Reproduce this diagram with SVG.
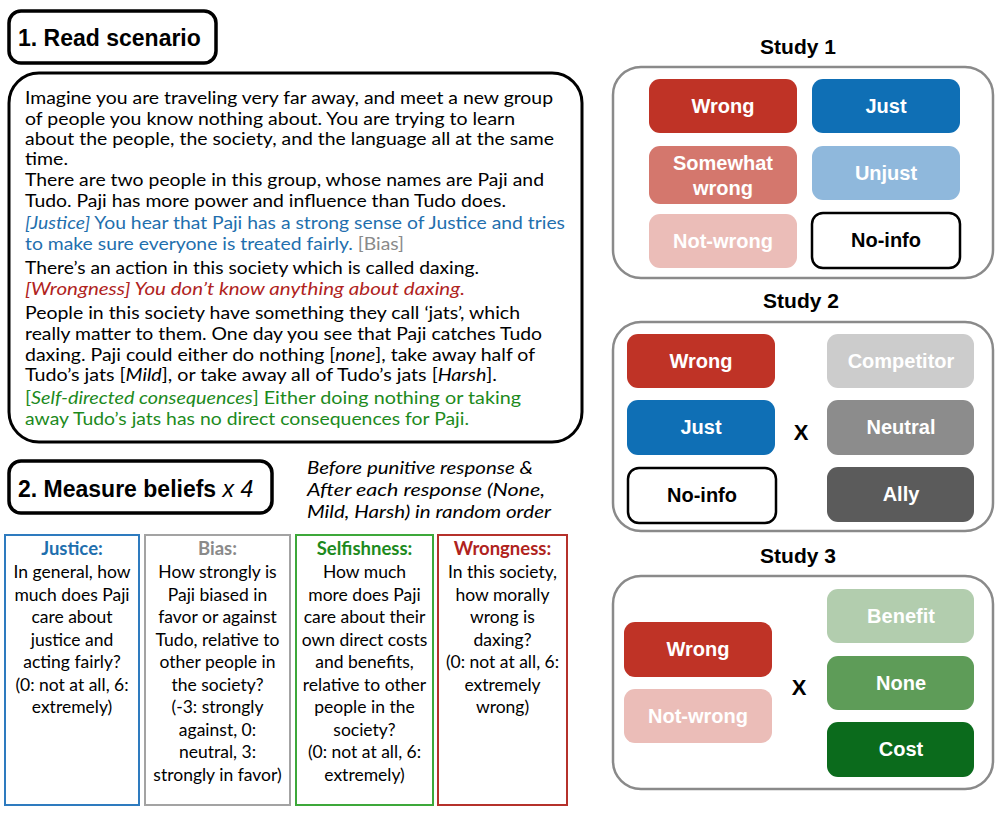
<svg xmlns="http://www.w3.org/2000/svg" width="1000" height="821" viewBox="0 0 1000 821">
<style>
.hdr{fill:#fff;stroke:#000;stroke-width:3.5}
.hdrt{font-family:"Liberation Sans",Arial,sans-serif;font-weight:bold;font-size:23px;fill:#000}
.body{font-family:Lato,"Noto Sans",sans-serif;font-size:18px;fill:#000}
.mbox{fill:#fff;stroke-width:2}
.mt{font-family:Lato,"Noto Sans",sans-serif;font-size:17.5px;fill:#000;text-anchor:middle}
.mtb{font-weight:bold;font-size:18.5px}
.it{font-style:italic}
text.blue,tspan.blue{fill:#1f6fae}
text.red,tspan.red{fill:#b0231d}
text.green,tspan.green{fill:#1d8a1d}
text.gray,tspan.gray{fill:#8a8a8a}
.study{font-family:"Liberation Sans",Arial,sans-serif;font-weight:bold;font-size:21px;fill:#000;text-anchor:middle}
.outer{fill:#fff;stroke:#8a8a8a;stroke-width:2.5}
.lbl{font-family:"Liberation Sans",Arial,sans-serif;font-weight:bold;font-size:20px;fill:#fff;text-anchor:middle}
text.lblk{fill:#000}
.x{font-family:"Liberation Sans",Arial,sans-serif;font-weight:bold;font-size:22px;fill:#000;text-anchor:middle}
</style>

<g id="header-read-scenario">
<rect class="hdr" x="9" y="11" width="207" height="52" rx="12"/>
<text class="hdrt" x="18" y="46">1. Read scenario</text>
</g>

<g id="scenario">
<rect x="9" y="73" width="573" height="369" rx="30" fill="#fff" stroke="#000" stroke-width="3"/>
<text class="body" x="25" y="104" textLength="528" lengthAdjust="spacingAndGlyphs">Imagine you are traveling very far away, and meet a new group</text>
<text class="body" x="25" y="124.5" textLength="490" lengthAdjust="spacingAndGlyphs">of people you know nothing about. You are trying to learn</text>
<text class="body" x="25" y="145" textLength="529" lengthAdjust="spacingAndGlyphs">about the people, the society, and the language all at the same</text>
<text class="body" x="25" y="165" textLength="43" lengthAdjust="spacingAndGlyphs">time.</text>
<text class="body" x="25" y="186" textLength="519" lengthAdjust="spacingAndGlyphs">There are two people in this group, whose names are Paji and</text>
<text class="body" x="25" y="206.5" textLength="481" lengthAdjust="spacingAndGlyphs">Tudo. Paji has more power and influence than Tudo does.</text>
<text class="body blue" x="25" y="229" textLength="540" lengthAdjust="spacingAndGlyphs"><tspan class="it">[Justice]</tspan> You hear that Paji has a strong sense of Justice and tries</text>
<text class="body blue" x="25" y="250" textLength="379" lengthAdjust="spacingAndGlyphs">to make sure everyone is treated fairly. <tspan class="gray">[Bias]</tspan></text>
<text class="body" x="25" y="274" textLength="454" lengthAdjust="spacingAndGlyphs">There’s an action in this society which is called daxing.</text>
<text class="body red it" x="25" y="295" textLength="440" lengthAdjust="spacingAndGlyphs">[Wrongness] You don’t know anything about daxing.</text>
<text class="body" x="25" y="319" textLength="495" lengthAdjust="spacingAndGlyphs">People in this society have something they call ‘jats’, which</text>
<text class="body" x="25" y="340" textLength="517" lengthAdjust="spacingAndGlyphs">really matter to them. One day you see that Paji catches Tudo</text>
<text class="body" x="25" y="360.5" textLength="510" lengthAdjust="spacingAndGlyphs">daxing. Paji could either do nothing [<tspan class="it">none</tspan>], take away half of</text>
<text class="body" x="25" y="381" textLength="472" lengthAdjust="spacingAndGlyphs">Tudo’s jats [<tspan class="it">Mild</tspan>], or take away all of Tudo’s jats [<tspan class="it">Harsh</tspan>].</text>
<text class="body green" x="25" y="404" textLength="496" lengthAdjust="spacingAndGlyphs">[<tspan class="it">Self-directed consequences</tspan>] Either doing nothing or taking</text>
<text class="body green" x="25" y="425" textLength="444" lengthAdjust="spacingAndGlyphs">away Tudo’s jats has no direct consequences for Paji.</text>
</g>

<g id="header-measure-beliefs">
<rect class="hdr" x="9" y="461" width="263" height="52" rx="12"/>
<text class="hdrt" x="18" y="497">2. Measure beliefs<tspan font-weight="normal" font-style="italic"> x 4</tspan></text>
</g>

<g id="timing-note">
<text class="body it" x="307" y="474" textLength="226" lengthAdjust="spacingAndGlyphs">Before punitive response &amp;</text>
<text class="body it" x="307" y="496" textLength="238" lengthAdjust="spacingAndGlyphs">After each response (None,</text>
<text class="body it" x="307" y="518" textLength="244" lengthAdjust="spacingAndGlyphs">Mild, Harsh) in random order</text>
</g>

<g id="measure-justice">
<rect class="mbox" x="5" y="535" width="134" height="270" stroke="#2e7bbf"/>
<text class="mt mtb blue" x="72" y="555">Justice:</text>
<text class="mt" x="72" y="578">In general, how</text>
<text class="mt" x="72" y="600.5">much does Paji</text>
<text class="mt" x="72" y="623">care about</text>
<text class="mt" x="72" y="645.5">justice and</text>
<text class="mt" x="72" y="668">acting fairly?</text>
<text class="mt" x="72" y="690.5">(0: not at all, 6:</text>
<text class="mt" x="72" y="713">extremely)</text>
</g>

<g id="measure-bias">
<rect class="mbox" x="145" y="535" width="145" height="270" stroke="#a3a3a3"/>
<text class="mt mtb gray" x="217.5" y="555">Bias:</text>
<text class="mt" x="217.5" y="578">How strongly is</text>
<text class="mt" x="217.5" y="600.5">Paji biased in</text>
<text class="mt" x="217.5" y="623">favor or against</text>
<text class="mt" x="217.5" y="645.5">Tudo, relative to</text>
<text class="mt" x="217.5" y="668">other people in</text>
<text class="mt" x="217.5" y="690.5">the society?</text>
<text class="mt" x="217.5" y="713">(-3: strongly</text>
<text class="mt" x="217.5" y="735.5">against, 0:</text>
<text class="mt" x="217.5" y="758">neutral, 3:</text>
<text class="mt" x="217.5" y="780.5">strongly in favor)</text>
</g>

<g id="measure-selfishness">
<rect class="mbox" x="296" y="535" width="137" height="270" stroke="#3da83a"/>
<text class="mt mtb green" x="364.5" y="555">Selfishness:</text>
<text class="mt" x="364.5" y="578">How much</text>
<text class="mt" x="364.5" y="600.5">more does Paji</text>
<text class="mt" x="364.5" y="623">care about their</text>
<text class="mt" x="364.5" y="645.5">own direct costs</text>
<text class="mt" x="364.5" y="668">and benefits,</text>
<text class="mt" x="364.5" y="690.5">relative to other</text>
<text class="mt" x="364.5" y="713">people in the</text>
<text class="mt" x="364.5" y="735.5">society?</text>
<text class="mt" x="364.5" y="758">(0: not at all, 6:</text>
<text class="mt" x="364.5" y="780.5">extremely)</text>
</g>

<g id="measure-wrongness">
<rect class="mbox" x="438" y="535" width="129" height="270" stroke="#b5312b"/>
<text class="mt mtb red" x="502.5" y="555">Wrongness:</text>
<text class="mt" x="502.5" y="578">In this society,</text>
<text class="mt" x="502.5" y="600.5">how morally</text>
<text class="mt" x="502.5" y="623">wrong is</text>
<text class="mt" x="502.5" y="645.5">daxing?</text>
<text class="mt" x="502.5" y="668">(0: not at all, 6:</text>
<text class="mt" x="502.5" y="690.5">extremely</text>
<text class="mt" x="502.5" y="713">wrong)</text>
</g>

<g id="study1">
<text class="study" x="798" y="54">Study 1</text>
<rect class="outer" x="613" y="67" width="380" height="211" rx="28"/>
<rect x="649" y="79" width="148" height="54" rx="11" fill="#bf3326"/>
<text class="lbl" x="723" y="113">Wrong</text>
<rect x="812" y="79" width="148" height="54" rx="11" fill="#0f6fb5"/>
<text class="lbl" x="886" y="113">Just</text>
<rect x="649" y="146" width="148" height="58" rx="11" fill="#d4776d"/>
<text class="lbl" x="723" y="170">Somewhat</text>
<text class="lbl" x="723" y="195">wrong</text>
<rect x="812" y="146" width="148" height="54" rx="11" fill="#8fb8dc"/>
<text class="lbl" x="886" y="180">Unjust</text>
<rect x="649" y="214" width="148" height="54" rx="11" fill="#ebbdb8"/>
<text class="lbl" x="723" y="248">Not-wrong</text>
<rect x="812" y="213" width="148" height="55" rx="11" fill="#fff" stroke="#000" stroke-width="2.5"/>
<text class="lbl lblk" x="886" y="247">No-info</text>
</g>

<g id="study2">
<text class="study" x="801" y="308">Study 2</text>
<rect class="outer" x="613" y="322" width="380" height="209" rx="28"/>
<rect x="627" y="334" width="148" height="54" rx="11" fill="#bf3326"/>
<text class="lbl" x="701" y="368">Wrong</text>
<rect x="627" y="400" width="148" height="55" rx="11" fill="#0f6fb5"/>
<text class="lbl" x="701" y="434">Just</text>
<rect x="628" y="468" width="148" height="55" rx="11" fill="#fff" stroke="#000" stroke-width="2.5"/>
<text class="lbl lblk" x="702" y="502">No-info</text>
<text class="x" x="801" y="440">X</text>
<rect x="827" y="334" width="147" height="54" rx="11" fill="#cccccc"/>
<text class="lbl" x="901" y="368">Competitor</text>
<rect x="827" y="400" width="147" height="55" rx="11" fill="#8c8c8c"/>
<text class="lbl" x="901" y="434">Neutral</text>
<rect x="827" y="467" width="147" height="55" rx="11" fill="#5b5b5b"/>
<text class="lbl" x="901" y="501">Ally</text>
</g>

<g id="study3">
<text class="study" x="798" y="563">Study 3</text>
<rect class="outer" x="613" y="576" width="380" height="213" rx="28"/>
<rect x="624" y="622" width="148" height="55" rx="11" fill="#bf3326"/>
<text class="lbl" x="698" y="656">Wrong</text>
<rect x="624" y="689" width="148" height="54" rx="11" fill="#ebbdb8"/>
<text class="lbl" x="698" y="723">Not-wrong</text>
<text class="x" x="799" y="695">X</text>
<rect x="827" y="589" width="147" height="54" rx="11" fill="#b2cdae"/>
<text class="lbl" x="901" y="623">Benefit</text>
<rect x="827" y="656" width="147" height="54" rx="11" fill="#5e9c58"/>
<text class="lbl" x="901" y="690">None</text>
<rect x="827" y="722" width="147" height="55" rx="11" fill="#0b6b1c"/>
<text class="lbl" x="901" y="756">Cost</text>
</g>
</svg>
